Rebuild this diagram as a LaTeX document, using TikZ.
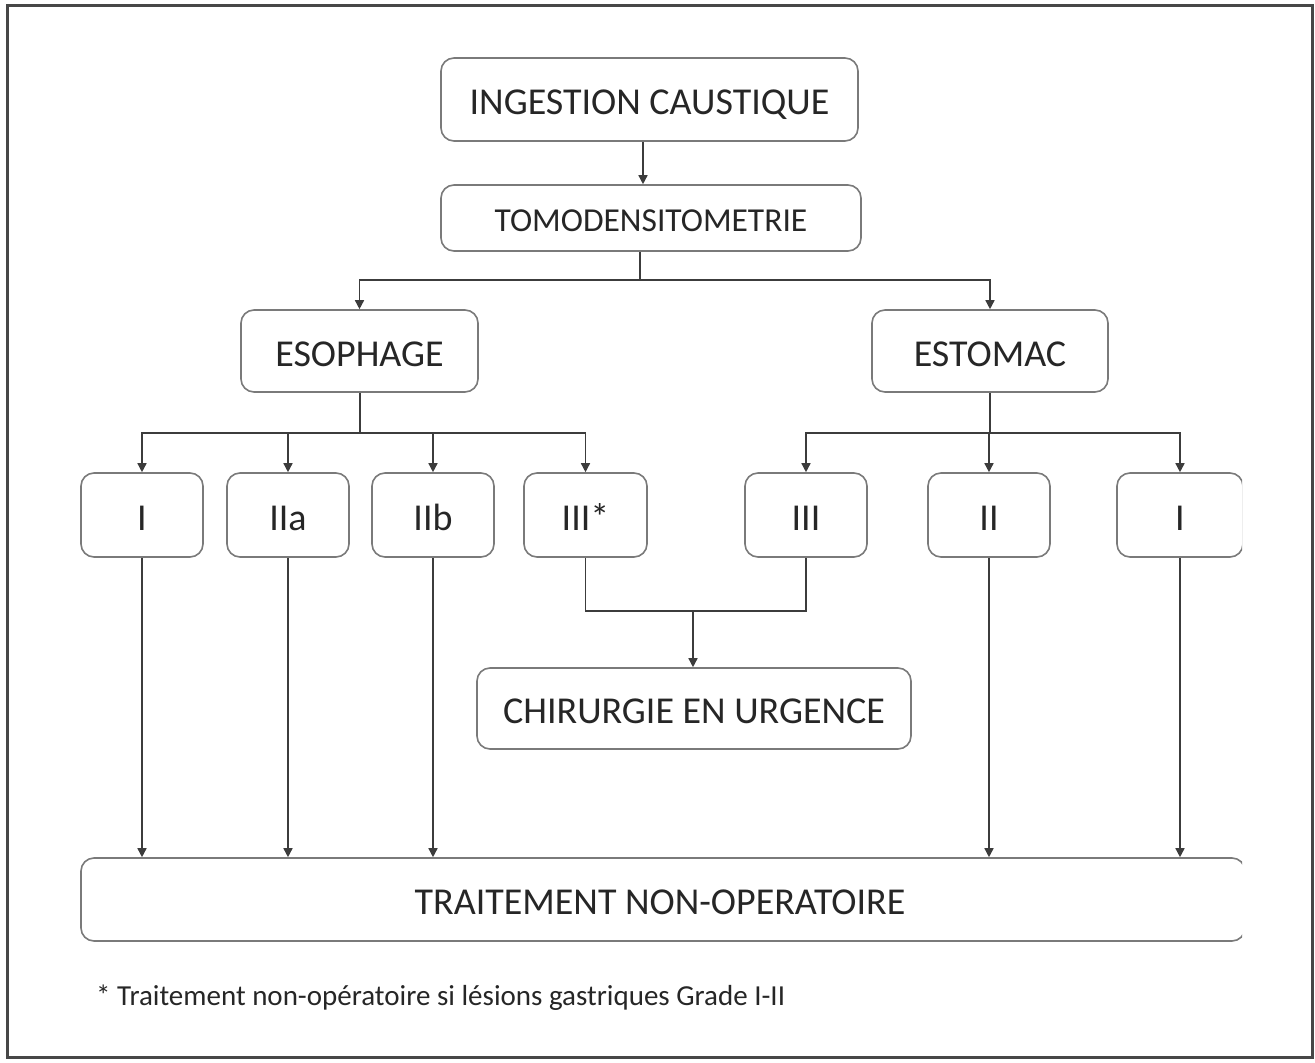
\documentclass[tikz,border=0pt]{standalone}
\usepackage{fontspec}
\setmainfont{Carlito}
\usetikzlibrary{arrows.meta,calc}
\definecolor{boxline}{HTML}{7A7A7A}
\definecolor{connline}{HTML}{3C3C3C}
\definecolor{txt}{HTML}{262626}
\definecolor{frameline}{HTML}{474747}
\tikzset{
  box/.style={draw=boxline, line width=1.6pt, rounded corners=13pt, fill=white,
    text=txt, inner sep=0pt, minimum height=#1},
  box/.default=82pt,
  bigtxt/.style={font=\fontsize{38}{42}\selectfont, text height=30pt, text depth=0pt},
  midtxt/.style={font=\fontsize{33.5}{37}\selectfont, text height=26pt, text depth=0pt},
  conn/.style={draw=connline, line width=1.5pt},
  arr/.style={conn, -{Triangle[length=9pt,width=9pt]}},
}
\begin{document}
\begin{tikzpicture}[x=1pt,y=-1pt]
  \useasboundingbox (0,0) rectangle (1315,1063);
  % outer frame
  \draw[frameline, line width=3pt] (7,5) rectangle (1312,1057);

  \begin{scope}
    \clip (0,0) rectangle (1242,1063);
    % top chain
    \node[box=83pt, bigtxt, minimum width=417pt] (ingest) at (649.5,99.5) {INGESTION CAUSTIQUE};
    \node[box=66pt, midtxt, minimum width=420pt] (tomo) at (651,218) {TOMODENSITOMETRIE};
    % organs
    \node[box, bigtxt, minimum width=237pt] (eso) at (359.5,351) {ESOPHAGE};
    \node[box, bigtxt, minimum width=236pt] (esto) at (990,351) {ESTOMAC};
    % grades
    \node[box=84pt, bigtxt, minimum width=122pt] (e1) at (142,515) {I};
    \node[box=84pt, bigtxt, minimum width=122pt] (e2a) at (288,515) {IIa};
    \node[box=84pt, bigtxt, minimum width=122pt] (e2b) at (433,515) {IIb};
    \node[box=84pt, bigtxt, minimum width=123pt] (e3s) at (585.5,515) {III*};
    \node[box=84pt, bigtxt, minimum width=122pt] (s3) at (806,515) {III};
    \node[box=84pt, bigtxt, minimum width=122pt] (s2) at (989,515) {II};
    \node[box=84pt, bigtxt, minimum width=126pt] (s1) at (1180,515) {I};
    % outcomes
    \node[box=81pt, bigtxt, minimum width=434pt] (chir) at (694,708.5) {CHIRURGIE EN URGENCE};
    \node[box=83pt, minimum width=1164pt] (trait) at (663,899.5) {};
    \node[bigtxt, text=txt, inner sep=0pt] (traitlbl) at (660,899.5) {TRAITEMENT NON-OPERATOIRE};
  \end{scope}

  % bus coordinates
  \coordinate (xa) at (643,0);
  \coordinate (busA) at (640,280);
  \coordinate (busB) at (360,433);
  \coordinate (busC) at (990,433);
  \coordinate (join) at (693,611);

  \draw[arr] (ingest.south -| xa) -- (tomo.north -| xa);
  \draw[conn] (tomo.south -| busA) -- (busA);
  \draw[arr] (busA) -| (eso.north);
  \draw[arr] (busA) -| (esto.north);

  \draw[conn] (eso.south -| busB) -- (busB);
  \draw[arr] (busB) -| (e1.north);
  \draw[arr] (busB) -| (e2a.north);
  \draw[arr] (busB) -| (e2b.north);
  \draw[arr] (busB) -| (e3s.north);

  \draw[conn] (esto.south -| busC) -- (busC);
  \draw[arr] (busC) -| (s3.north);
  \draw[arr] (busC) -| (s2.north);
  \draw[arr] (busC) -| (s1.north);

  \draw[conn] (e3s.south) |- (join) -| (s3.south);
  \draw[arr] (join) -- (chir.north -| join);

  \draw[arr] (e1.south) -- (e1.south |- trait.north);
  \draw[arr] (e2a.south) -- (e2a.south |- trait.north);
  \draw[arr] (e2b.south) -- (e2b.south |- trait.north);
  \draw[arr] (s2.south) -- (s2.south |- trait.north);
  \draw[arr] (s1.south) -- (s1.south |- trait.north);

  % footnote
  \node[anchor=west, text=txt, inner sep=0pt, font=\fontsize{29}{33}\selectfont] (note) at (96,998)
    {* Traitement non-opératoire si lésions gastriques Grade I-II};
\end{tikzpicture}
\end{document}
